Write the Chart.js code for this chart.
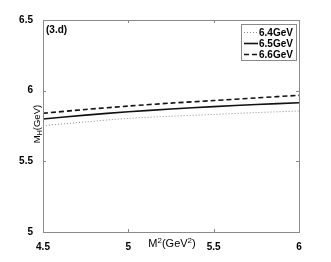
<!DOCTYPE html>
<html>
<head>
<meta charset="utf-8">
<script src="https://cdn.jsdelivr.net/npm/chart.js@4/dist/chart.umd.min.js"></script>
<style>
  html, body { margin: 0; padding: 0; background: #fff; }
  #wrap { width: 331px; height: 262px; }
</style>
</head>
<body>
<div id="wrap"><canvas id="chart" width="331" height="262"></canvas></div>
<script>
// M^2 values (GeV^2)
const borel = [4.5, 4.75, 5, 5.25, 5.5, 5.75, 6];
// M_H (GeV) for each threshold
const mh64 = [5.752, 5.779, 5.804, 5.819, 5.832, 5.845, 5.856];
const mh65 = [5.800, 5.827, 5.851, 5.870, 5.887, 5.902, 5.915];
const mh66 = [5.840, 5.867, 5.891, 5.912, 5.930, 5.949, 5.967];
const seriesNames = ['6.4GeV', '6.5GeV', '6.6GeV'];
const xTicks = [4.5, 5, 5.5, 6];
const yTicks = [5, 5.5, 6, 6.5];

const toPts = ys => borel.map((x, i) => ({ x: x, y: ys[i] }));
const FAM = 'Liberation Sans, Arial, sans-serif';
const tickFont = { family: FAM, size: 10, weight: 'bold' };

// draws runs of text with sub/superscripts
function richText(ctx, parts, x, y) {
    parts.forEach(p => {
        ctx.font = p[2] + 'px ' + FAM;
        ctx.fillText(p[0], x, y + p[1]);
        x += ctx.measureText(p[0]).width;
    });
}
function richWidth(ctx, parts) {
    let w = 0;
    parts.forEach(p => { ctx.font = p[2] + 'px ' + FAM; w += ctx.measureText(p[0]).width; });
    return w;
}

// frame, inward ticks, titles, panel tag and legend box
const decor = {
    id: 'decor',
    afterDraw(chart) {
        const ctx = chart.ctx;
        const a = chart.chartArea;
        const xs = chart.scales.x, ys = chart.scales.y;
        ctx.save();
        ctx.strokeStyle = '#8a8a8a';
        ctx.lineWidth = 1;
        ctx.strokeRect(a.left + 0.5, a.top + 0.5, a.right - a.left, a.bottom - a.top);
        ctx.beginPath();
        xTicks.forEach(v => {
            const px = Math.round(xs.getPixelForValue(v)) + 0.5;
            ctx.moveTo(px, a.bottom); ctx.lineTo(px, a.bottom - 3);
            ctx.moveTo(px, a.top); ctx.lineTo(px, a.top + 3);
        });
        yTicks.forEach(v => {
            const py = Math.round(ys.getPixelForValue(v)) + 0.5;
            ctx.moveTo(a.left, py); ctx.lineTo(a.left + 3, py);
            ctx.moveTo(a.right, py); ctx.lineTo(a.right - 3, py);
        });
        ctx.stroke();

        ctx.fillStyle = '#000';
        ctx.textBaseline = 'alphabetic';
        // x title
        const xParts = [['M', 0, 11], ['2', -4, 8], ['(GeV', 0, 11], ['2', -4, 8], [')', 0, 11]];
        richText(ctx, xParts, 172 - richWidth(ctx, xParts) / 2, 247);

        // y title, rotated
        ctx.save();
        ctx.translate(39.5, 124);
        ctx.rotate(-Math.PI / 2);
        const yParts = [['M', 0, 9.5], ['H', 2.5, 7], ['(GeV)', 0, 9.5]];
        richText(ctx, yParts, -richWidth(ctx, yParts) / 2, 0);
        ctx.restore();

        // panel tag
        ctx.font = 'bold 10px ' + FAM;
        ctx.fillText('(3.d)', a.left + 3, a.top + 13);

        // legend
        const bx = 241, by = 24, bw = 55, bh = 36;
        ctx.fillStyle = '#fff';
        ctx.fillRect(bx, by, bw, bh);
        ctx.strokeStyle = '#8a8a8a';
        ctx.lineWidth = 1;
        ctx.strokeRect(bx + 0.5, by + 0.5, bw, bh);
        chart.data.datasets.forEach((ds, i) => {
            const ly = by + 8 + i * 11;
            ctx.beginPath();
            ctx.strokeStyle = ds.borderColor;
            ctx.lineWidth = ds.borderWidth;
            ctx.setLineDash(ds.borderDash || []);
            ctx.moveTo(bx + 3, ly + 0.5);
            ctx.lineTo(bx + 17, ly + 0.5);
            ctx.stroke();
            ctx.setLineDash([]);
            ctx.fillStyle = '#000';
            ctx.font = 'bold 10px ' + FAM;
            ctx.textBaseline = 'middle';
            ctx.fillText(ds.label, bx + 18, ly + 1);
        });
        ctx.restore();
    }
};

new Chart(document.getElementById('chart'), {
    type: 'line',
    data: {
        datasets: [
            { label: seriesNames[0], data: toPts(mh64), borderColor: '#8c8c8c', borderWidth: 1, borderDash: [1, 2] },
            { label: seriesNames[1], data: toPts(mh65), borderColor: '#111', borderWidth: 1.6 },
            { label: seriesNames[2], data: toPts(mh66), borderColor: '#111', borderWidth: 1.6, borderDash: [5, 3] }
        ]
    },
    options: {
        responsive: false,
        animation: false,
        events: [],
        layout: { padding: { left: 0, right: 32, top: 20, bottom: 0 } },
        elements: { point: { radius: 0 }, line: { tension: 0.3 } },
        plugins: { legend: { display: false }, tooltip: { enabled: false } },
        scales: {
            x: {
                type: 'linear', min: 4.5, max: 6,
                afterFit: s => { s.height = 30; },
                afterBuildTicks: s => { s.ticks = xTicks.map(v => ({ value: v })); },
                grid: { display: false },
                border: { display: false },
                ticks: { color: '#000', font: tickFont, padding: 1, maxRotation: 0,
                         callback: v => String(+v.toFixed(2)) }
            },
            y: {
                min: 5, max: 6.5,
                afterFit: s => { s.width = 43; },
                afterBuildTicks: s => { s.ticks = yTicks.map(v => ({ value: v })); },
                grid: { display: false },
                border: { display: false },
                ticks: { color: '#000', font: tickFont, padding: 2,
                         callback: v => String(+v.toFixed(2)) }
            }
        }
    },
    plugins: [decor]
});
</script>
</body>
</html>
